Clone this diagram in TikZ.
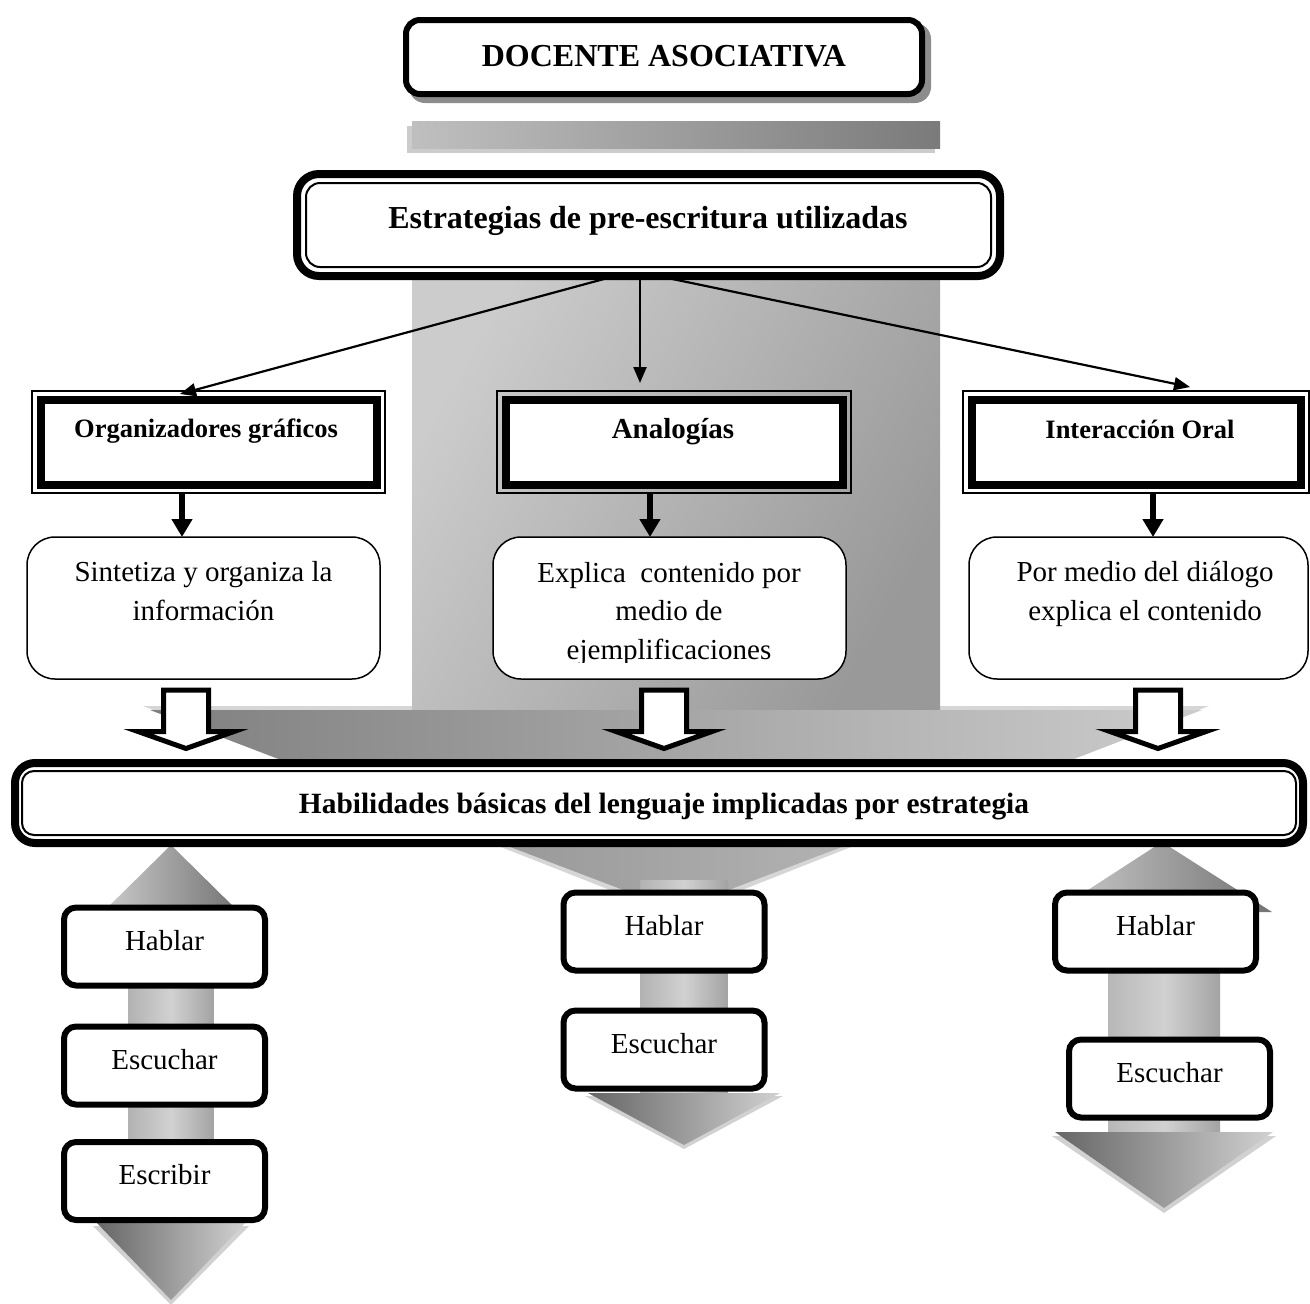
\documentclass[tikz,border=0pt]{standalone}
\usepackage{fontspec}
\setmainfont{Liberation Serif}
\usetikzlibrary{arrows.meta,calc}
\begin{document}
\begin{tikzpicture}[x=1pt,y=-1pt,
  every node/.style={inner sep=0pt,outer sep=0pt},
  titlefont/.style={font=\bfseries\fontsize{32}{38}\selectfont},
  headfont/.style={font=\bfseries\fontsize{26.5}{32}\selectfont},
  barfont/.style={font=\bfseries\fontsize{29.4}{35}\selectfont},
  bodyfont/.style={font=\fontsize{29}{38.5}\selectfont},
  thinarrow/.style={line width=2.2pt,-{Triangle[length=16pt,width=13pt]}},
  thickarrow/.style={line width=6pt,-{Triangle[length=18pt,width=20pt]}},
  headbox/.style={draw,line width=1.5pt,minimum height=102pt},
  descbox/.style={draw,line width=1.5pt,rounded corners=28pt,fill=white,minimum height=142pt},
  skillbox/.style={draw,line width=6pt,rounded corners=12pt,fill=white,minimum width=201pt,
    minimum height=78pt,text height=20pt,text depth=13pt,bodyfont},
  hollow/.style={draw,line width=5pt,fill=white,line join=miter},
]
\useasboundingbox (0,0) rectangle (1310,1304);

% title with its drop shadow
\fill[black!45,rounded corners=16pt] (409,23) rectangle (931,103);
\node[draw,line width=6pt,rounded corners=14pt,fill=white,minimum width=516pt,minimum height=74pt,
  titlefont,text height=22pt,text depth=4pt] (title) at (664,57) {DOCENTE ASOCIATIVA};

% shaded bar under the title
\fill[black!20] (407,126) rectangle (935,153);
\shade[left color=black!25,right color=black!52] (412,121) rectangle (940,148);

% large background arrow
\fill[black!16] (143,706) -- (1209,706) -- (676,916) -- cycle;
\shade[left color=black!20,right color=black!40,shading angle=60] (412,265) rectangle (940,711);
\shade[left color=black!50,right color=black!20] (150,710) -- (1202,710) -- (676,910) -- cycle;

% grey arrows behind the skill boxes: left column
\shade[left color=black!30,right color=black!36,middle color=black!18] (128.5,900) rectangle (213.5,1225);
\shade[left color=black!20,right color=black!55] (171,845) -- (240,913) -- (102,913) -- cycle;
\fill[black!18] (93,1226) -- (249,1226) -- (171,1305) -- cycle;
\shade[left color=black!60,right color=black!18] (96,1222) -- (246,1222) -- (171,1300) -- cycle;
% middle column
\shade[left color=black!30,right color=black!36,middle color=black!18] (640.5,880) rectangle (727.5,1095);
\fill[black!18] (585,1096) -- (783,1096) -- (684,1149) -- cycle;
\shade[left color=black!60,right color=black!18] (588,1093) -- (780,1093) -- (684,1145) -- cycle;
% right column
\shade[left color=black!28,right color=black!36,middle color=black!18] (1108,900) rectangle (1220,1134);
\shade[left color=black!20,right color=black!55] (1162,842) -- (1272,912) -- (1054,912) -- cycle;
\fill[black!18] (1052,1136) -- (1276,1136) -- (1164,1213) -- cycle;
\shade[left color=black!60,right color=black!18] (1055,1132) -- (1273,1132) -- (1164,1208) -- cycle;

% strategies box (double border)
\node[draw,line width=8pt,rounded corners=22pt,fill=white,minimum width=703pt,minimum height=102pt] (est) at (648.5,225) {};
\draw[line width=2pt,rounded corners=14pt] ($(est.north west)+(9,9)$) rectangle ($(est.south east)+(-9,-9)$);
\node[titlefont,anchor=base] (estt) at (648,228) {Estrategias de pre-escritura utilizadas};

% strategy headers
\node[headbox,minimum width=353pt] (org) at (208.5,442) {};
\draw[line width=8pt,fill=white] ($(org.north west)+(8.5,8.5)$) rectangle ($(org.south east)+(-8.5,-8.5)$);
\node[headfont,anchor=base] (orgt) at (206,437) {Organizadores gráficos};

\node[headbox,minimum width=354pt] (ana) at (674,442) {};
\draw[line width=8pt,fill=white] ($(ana.north west)+(8.5,8.5)$) rectangle ($(ana.south east)+(-8.5,-8.5)$);
\node[font=\bfseries\fontsize{29}{34}\selectfont,anchor=base] (anat) at (673,438) {Analogías};

\node[headbox,minimum width=346pt] (int) at (1136,442) {};
\draw[line width=8pt,fill=white] ($(int.north west)+(8.5,8.5)$) rectangle ($(int.south east)+(-8.5,-8.5)$);
\node[headfont,anchor=base] (intt) at (1140,438) {Interacción Oral};

% connectors from the strategies box
\draw[thinarrow] ([xshift=-33.5pt]est.south) -- ([xshift=-28.5pt,yshift=-3pt]org.north);
\draw[thinarrow] ([xshift=-8.5pt]est.south) -- ([xshift=-34pt,yshift=8pt]ana.north);
\draw[thinarrow] ([xshift=9.5pt]est.south) -- ([xshift=54pt,yshift=4pt]int.north);

% description boxes (text anchored on the baseline of its last line)
\node[descbox,minimum width=353pt] (d1) at (203.5,608) {};
\node[bodyfont,align=center,anchor=base] (d1t) at (203.5,620) {Sintetiza y organiza la\\información};
\node[descbox,minimum width=353pt] (d2) at (669.5,608) {};
\begin{scope}
  \clip (480,540) rectangle (860,662);
  \node[bodyfont,align=center,anchor=base] (d2t) at (669,659) {Explica\ \ contenido por\\medio de\\ejemplificaciones};
\end{scope}
\node[descbox,minimum width=339pt] (d3) at (1138.5,608) {};
\node[bodyfont,align=center,anchor=base] (d3t) at (1145,620) {Por medio del diálogo\\explica el contenido};

% thick connectors header -> description
\coordinate (a1) at ([xshift=-26.5pt]org.south);
\coordinate (a2) at ([xshift=-24pt]ana.south);
\coordinate (a3) at ([xshift=17pt]int.south);
\draw[thickarrow] (a1) -- (a1 |- d1.north);
\draw[thickarrow] (a2) -- (a2 |- d2.north);
\draw[thickarrow] (a3) -- (a3 |- d3.north);

% hollow block arrows towards the skills bar
\foreach \cx in {186,664,1158}{
  \draw[hollow] (\cx-22.5,690) -- (\cx+22.5,690) -- (\cx+22.5,731.5) -- (\cx+48,731.5)
    -- (\cx,748.5) -- (\cx-48,731.5) -- (\cx-22.5,731.5) -- cycle;
}

% skills bar (double border)
\node[draw,line width=8pt,rounded corners=20pt,fill=white,minimum width=1288pt,minimum height=80pt] (hab) at (659,803) {};
\draw[line width=2pt,rounded corners=12pt] ($(hab.north west)+(7,8)$) rectangle ($(hab.south east)+(-7,-8)$);
\node[barfont,anchor=base] (habt) at (664,813) {Habilidades básicas del lenguaje implicadas por estrategia};

% skill boxes
\node[skillbox] (s1) at (164.5,946.5) {Hablar};
\node[skillbox] (s2) at (164.5,1065.5) {Escuchar};
\node[skillbox] (s3) at (164.5,1181) {Escribir};
\node[skillbox] (s4) at (664,931.5) {Hablar};
\node[skillbox] (s5) at (664,1049.5) {Escuchar};
\node[skillbox] (s6) at (1155.5,931.5) {Hablar};
\node[skillbox] (s7) at (1169.5,1078.5) {Escuchar};
\end{tikzpicture}
\end{document}
